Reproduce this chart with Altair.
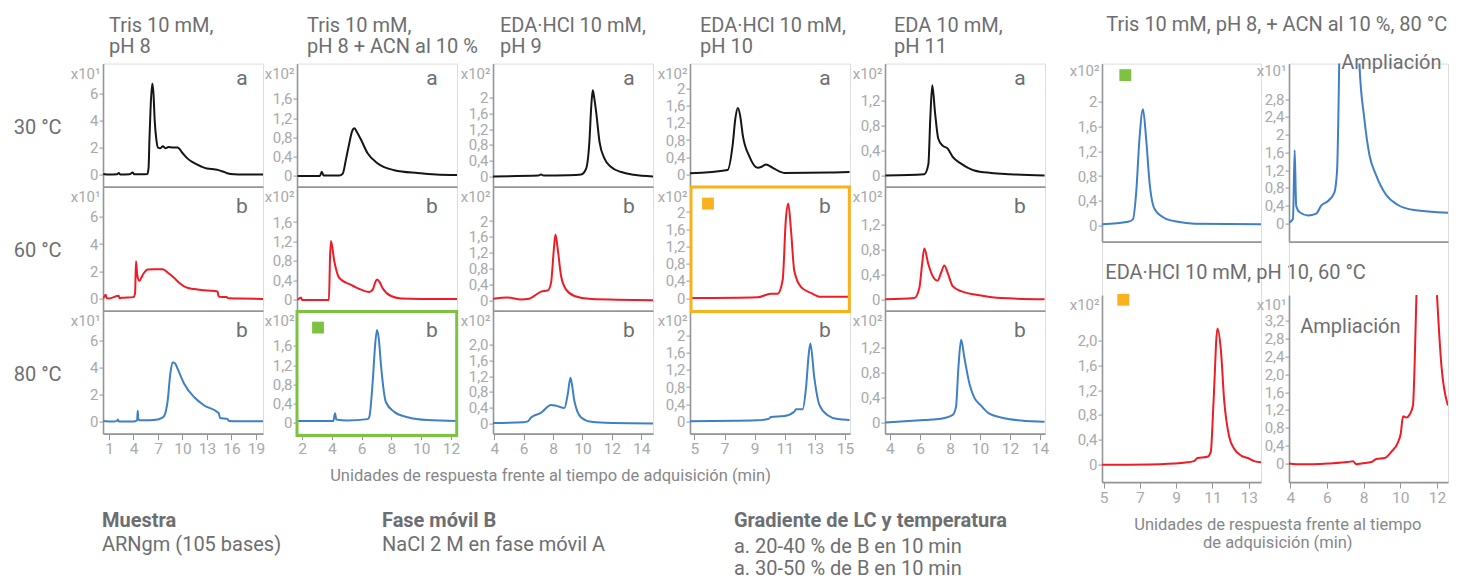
import altair as alt
import pandas as pd

# ---------------- data (display units of each panel) ----------------
# Column 1: Tris 10 mM, pH 8  (x10^1)
t_c1_30 = [0.3, 1.0, 2.0, 2.2, 2.4, 3.5, 3.9, 4.1, 5.0, 5.7, 5.85, 5.95, 6.1, 6.3, 6.45, 6.6, 6.8, 7.0, 7.3, 7.6, 7.9, 8.3, 8.8, 9.4, 10.0, 10.6, 11.3, 12.3, 13.0, 14.0, 14.3, 14.8, 15.1, 15.5, 16.3, 17.5, 19.9]
v_c1_30 = [0.05, 0.0, 0.02, 0.12, 0.0, 0.02, 0.15, 0.03, 0.02, 0.05, 0.5, 2.5, 5.0, 6.75, 6.0, 4.0, 2.6, 2.0, 1.95, 2.1, 1.95, 2.05, 2.0, 2.0, 1.6, 1.2, 0.9, 0.6, 0.45, 0.38, 0.35, 0.25, 0.2, 0.1, 0.02, 0.0, 0.0]
t_c1_60 = [0.3, 0.6, 0.7, 1.0, 2.2, 2.3, 2.5, 4.0, 4.2, 4.31, 4.45, 4.7, 5.2, 5.74, 6.5, 7.58, 8.3, 9.0, 9.6, 10.2, 10.8, 11.45, 12.3, 13.1, 14.3, 14.4, 14.5, 15.4, 15.6, 17.0, 19.9]
v_c1_60 = [0.0, 0.27, 0.05, 0.0, 0.2, 0.0, 0.05, 0.1, 0.4, 2.74, 1.8, 1.31, 1.8, 2.13, 2.15, 2.15, 1.85, 1.5, 1.15, 0.89, 0.75, 0.69, 0.63, 0.59, 0.52, 0.2, 0.12, 0.1, 0.02, 0.0, -0.03]
t_c1_80 = [0.3, 1.5, 2.0, 2.1, 2.2, 4.0, 4.45, 4.52, 4.6, 4.8, 6.0, 6.97, 7.4, 7.77, 8.19, 8.5, 8.8, 9.1, 9.41, 10.22, 11.45, 12.67, 14.3, 14.45, 14.6, 15.5, 15.7, 17.0, 19.9]
v_c1_80 = [0.05, 0.0, 0.05, 0.15, 0.0, 0.0, 0.1, 0.81, 0.15, 0.1, 0.1, 0.15, 0.25, 0.44, 1.55, 3.5, 4.39, 4.3, 3.9, 2.79, 1.8, 1.19, 0.69, 0.6, 0.27, 0.2, 0.05, 0.03, 0.02]

# Column 2: Tris 10 mM, pH 8 + ACN al 10 %  (x10^2)
t_c2_30 = [1.7, 3.2, 3.32, 3.45, 4.5, 4.73, 4.95, 5.17, 5.35, 5.51, 5.7, 5.96, 6.4, 7.08, 8.19, 9.76, 11.0, 12.4]
v_c2_30 = [0.0, 0.0, 0.09, 0.01, 0.01, 0.05, 0.35, 0.68, 0.92, 0.99, 0.9, 0.75, 0.47, 0.26, 0.12, 0.06, 0.03, 0.02]
t_c2_60 = [1.7, 1.93, 2.0, 3.8, 3.88, 3.94, 4.16, 4.5, 5.28, 5.96, 6.51, 6.74, 6.9, 7.03, 7.2, 7.41, 7.97, 8.64, 10.0, 12.4]
v_c2_60 = [0.0, 0.05, 0.0, 0.0, 0.9, 1.21, 0.8, 0.45, 0.31, 0.21, 0.16, 0.21, 0.35, 0.42, 0.37, 0.24, 0.08, 0.03, 0.02, 0.02]
t_c2_80 = [1.7, 4.1, 4.21, 4.3, 5.0, 6.4, 6.51, 6.74, 6.9, 7.03, 7.15, 7.3, 7.63, 8.19, 9.09, 10.43, 12.4]
v_c2_80 = [0.04, 0.04, 0.2, 0.07, 0.05, 0.08, 0.12, 0.85, 1.6, 1.93, 1.75, 1.19, 0.43, 0.23, 0.12, 0.06, 0.04]

# Column 3: EDA·HCl 10 mM, pH 9  (x10^2)
t_c3_30 = [3.9, 7.0, 7.18, 7.35, 9.0, 9.91, 10.25, 10.47, 10.6, 10.7, 10.8, 10.93, 11.16, 11.5, 11.95, 12.64, 13.5, 14.8]
v_c3_30 = [0.0, 0.02, 0.05, 0.02, 0.03, 0.05, 0.2, 0.88, 1.8, 2.19, 2.0, 1.64, 0.88, 0.45, 0.24, 0.11, 0.04, 0.0]
t_c3_60 = [3.9, 4.91, 5.82, 6.38, 6.84, 7.18, 7.64, 7.86, 8.05, 8.16, 8.32, 8.55, 8.89, 9.45, 10.6, 14.8]
v_c3_60 = [0.04, 0.07, 0.02, 0.04, 0.14, 0.22, 0.25, 0.44, 1.28, 1.66, 1.28, 0.6, 0.27, 0.11, 0.03, 0.0]
t_c3_80 = [3.9, 6.0, 6.28, 6.5, 7.18, 7.86, 8.2, 8.77, 9.0, 9.18, 9.3, 9.45, 9.91, 10.6, 12.0, 14.8]
v_c3_80 = [0.01, 0.03, 0.05, 0.15, 0.27, 0.47, 0.45, 0.39, 0.75, 1.16, 0.95, 0.57, 0.15, 0.04, 0.01, 0.0]

# Column 4: EDA·HCl 10 mM, pH 10  (x10^2)
t_c4_30 = [4.7, 7.21, 7.54, 7.72, 7.88, 8.05, 8.21, 8.65, 9.2, 9.5, 9.75, 10.2, 10.97, 14.0, 15.3]
v_c4_30 = [0.02, 0.1, 0.68, 1.3, 1.55, 1.35, 0.92, 0.42, 0.15, 0.18, 0.23, 0.15, 0.03, 0.04, 0.05]
t_c4_60 = [4.7, 9.2, 10.08, 10.53, 10.86, 11.08, 11.23, 11.41, 11.63, 12.07, 12.74, 13.4, 15.3]
v_c4_60 = [0.0, 0.02, 0.1, 0.1, 0.42, 1.87, 2.2, 1.6, 0.64, 0.26, 0.12, 0.03, 0.03]
t_c4_80 = [4.7, 9.2, 9.97, 10.08, 10.97, 11.63, 11.74, 12.19, 12.41, 12.6, 12.7, 12.96, 13.3, 13.85, 14.51, 15.3]
v_c4_80 = [0.0, 0.02, 0.06, 0.1, 0.12, 0.22, 0.28, 0.28, 0.78, 1.6, 1.82, 1.02, 0.38, 0.14, 0.05, 0.03]

# Column 5: EDA 10 mM, pH 11  (x10^2)
t_c5_30 = [3.7, 6.29, 6.56, 6.69, 6.82, 7.0, 7.22, 7.51, 7.85, 8.18, 8.74, 9.62, 10.74, 12.0, 14.3]
v_c5_30 = [0.0, 0.02, 0.18, 0.93, 1.45, 1.02, 0.59, 0.48, 0.43, 0.3, 0.19, 0.08, 0.04, 0.02, 0.0]
t_c5_60 = [3.7, 5.62, 5.96, 6.14, 6.29, 6.56, 6.85, 7.18, 7.4, 7.62, 7.85, 8.18, 8.74, 10.07, 11.4, 14.3]
v_c5_60 = [0.0, 0.02, 0.18, 0.56, 0.81, 0.56, 0.37, 0.3, 0.42, 0.54, 0.42, 0.21, 0.13, 0.06, 0.02, 0.0]
t_c5_80 = [3.7, 6.29, 7.4, 8.18, 8.4, 8.56, 8.74, 8.96, 9.3, 9.62, 10.07, 10.62, 11.4, 12.74, 14.3]
v_c5_80 = [0.0, 0.04, 0.06, 0.12, 0.25, 0.88, 1.33, 1.04, 0.62, 0.4, 0.27, 0.14, 0.08, 0.03, 0.01]

# Right: Tris + ACN, 80 °C  (x10^2) and zoom (x10^1)
t_acn = [4.8, 6.27, 6.55, 6.74, 6.92, 7.12, 7.3, 7.49, 7.77, 8.34, 9.09, 10.03, 13.8]
v_acn = [0.02, 0.06, 0.1, 0.55, 1.4, 1.88, 1.4, 0.7, 0.27, 0.12, 0.06, 0.03, 0.02]
t_acn_zoom = [3.9, 4.11, 4.2, 4.28, 4.46, 4.9, 5.34, 5.6, 5.95, 6.3, 6.44, 6.6, 6.8, 7.1, 7.35, 7.62, 7.88, 8.15, 8.49, 9.02, 9.64, 10.5, 12.3]
v_acn_zoom = [0.02, 0.1, 1.65, 0.4, 0.25, 0.18, 0.22, 0.4, 0.5, 0.7, 1.2, 5.0, 12.0, 18.8, 10.0, 3.6, 2.36, 1.54, 1.1, 0.65, 0.42, 0.3, 0.24]

# Right: EDA·HCl pH 10, 60 °C  (x10^2) and zoom (x10^1, only the part that is on scale)
t_eda = [4.9, 8.14, 9.62, 9.99, 10.18, 10.73, 10.91, 11.06, 11.28, 11.47, 11.65, 11.93, 12.2, 12.58, 12.95, 13.31, 13.7]
v_eda = [-0.01, 0.0, 0.03, 0.05, 0.1, 0.12, 0.2, 1.0, 2.2, 1.84, 1.03, 0.44, 0.25, 0.14, 0.1, 0.05, 0.03]
t_eda_zoom = [3.93, 4.6, 6.06, 7.15, 7.42, 7.6, 7.87, 8.42, 8.69, 9.15, 9.51, 9.88, 10.02, 10.15, 10.33, 10.51, 10.69, 10.78, 10.88, 12.0, 12.24, 12.6]
v_eda_zoom = [0.0, -0.02, 0.0, 0.03, 0.05, -0.02, 0.0, 0.03, 0.1, 0.12, 0.26, 0.48, 0.66, 1.06, 1.03, 1.1, 1.3, 2.2, 3.78, 3.78, 2.2, 1.3]
seg_eda_zoom = [0] * 19 + [1] * 3

col_titles = [["Tris 10 mM,", "pH 8"], ["Tris 10 mM,", "pH 8 + ACN al 10 %"],
              ["EDA·HCl 10 mM,", "pH 9"], ["EDA·HCl 10 mM,", "pH 10"], ["EDA 10 mM,", "pH 11"]]
row_labels = ["30 °C", "60 °C", "80 °C"]
row_letters = ["a", "b", "b"]
y_titles = ["x10¹", "x10²", "x10²", "x10²", "x10²"]
x_ticks = [[1, 4, 7, 10, 13, 16, 19], [2, 4, 6, 8, 10, 12], [4, 6, 8, 10, 12, 14],
           [5, 7, 9, 11, 13, 15], [4, 6, 8, 10, 12, 14]]
y_ticks = [[0, 2, 4, 6], [0, 0.4, 0.8, 1.2, 1.6], [0, 0.4, 0.8, 1.2, 1.6, 2.0],
           [0, 0.4, 0.8, 1.2, 1.6, 2.0], [0, 0.4, 0.8, 1.2]]
series = [[(t_c1_30, v_c1_30), (t_c2_30, v_c2_30), (t_c3_30, v_c3_30), (t_c4_30, v_c4_30), (t_c5_30, v_c5_30)],
          [(t_c1_60, v_c1_60), (t_c2_60, v_c2_60), (t_c3_60, v_c3_60), (t_c4_60, v_c4_60), (t_c5_60, v_c5_60)],
          [(t_c1_80, v_c1_80), (t_c2_80, v_c2_80), (t_c3_80, v_c3_80), (t_c4_80, v_c4_80), (t_c5_80, v_c5_80)]]

# ---------------- styling / layout ----------------
FONT = "Roboto"
TXT = "#6d6e71"
LBL = "#a7a9ac"
AXC = "#939598"
ROW_COLORS = ["#151515", "#ee1c25", "#3f7fc6"]
GREEN = "#7dc242"
ORANGE = "#f9b21d"

X_DOMS = [[0.27, 19.86], [1.66, 12.4], [3.91, 14.8], [4.71, 15.33], [3.67, 14.33]]
Y_DOMS = [[-0.89, 8.22], [-0.22, 2.33], [-0.26, 2.87], [-0.29, 2.59], [-0.18, 1.8]]
ROW_TOP = [0, 123, 247]
ROW_BOT = [123, 247, 370]
LH = 370
PW = 160
GAPS = [34, 36, 37, 35, 56.7, 27.7]
LETTER_X = [139, 135, 136, 135, 135]
LETTER_Y = [21, 26.5, 26]
TITLE_DX = [6, 10, 7, 10, 9]
RW = 159
RT_H = 178
RB_TOP = 231.5
RH = 418.5
HEAD = 20        # heading font size
BODY = 20        # bottom notes font size

EXPR_SHORT = ("datum.value == 0 ? '0' : (abs(datum.value - round(datum.value)) < 0.001 ? "
              "format(datum.value, 'd') : replace(format(datum.value, '.1f'), '.', ','))")
EXPR_LONG = "datum.value == 0 ? '0' : replace(format(datum.value, '.1f'), '.', ',')"


def y_axis(vals, title, expr, title_y, domain=True):
    return alt.Axis(orient="left", values=vals, title=title, titleAngle=0, titleAlign="right",
                    titleBaseline="middle", titleX=-3, titleY=title_y, titleFontSize=15,
                    titleFontWeight="normal", titleColor=LBL, titleFont=FONT,
                    labelExpr=expr, labelFontSize=15, labelColor=LBL, labelFont=FONT,
                    labelPadding=1, tickSize=4, tickColor=AXC, tickWidth=1,
                    domain=domain, domainColor=AXC, domainWidth=1.6, grid=False)


def x_axis(offset, vals=None, domain=True, title=None, title_x=0, title_y=0):
    if vals is None:
        return alt.Axis(orient="bottom", offset=offset, ticks=False, labels=False, title=None,
                        grid=False, domain=domain, domainColor=AXC, domainWidth=1.6)
    if title is not None:
        kw = dict(title=title, titleX=title_x, titleY=title_y, titleAlign="center",
                  titleBaseline="top", titleFontSize=16.5, titleFontWeight="normal",
                  titleColor="#85878a", titleFont=FONT, titleLineHeight=18.5)
    else:
        kw = dict(title=None)
    return alt.Axis(orient="bottom", offset=offset, values=vals, labelFontSize=15.5,
                    labelColor=LBL, labelFont=FONT, labelPadding=2, tickSize=6,
                    tickColor=AXC, tickWidth=1, domain=domain, domainColor=AXC,
                    domainWidth=1.6, grid=False, **kw)


def text_layer(txt, x, y, size=HEAD, color=TXT, align="left", weight="normal"):
    return alt.Chart(pd.DataFrame({"s": [txt]})).mark_text(
        align=align, baseline="alphabetic", fontSize=size, font=FONT, color=color,
        fontWeight=weight).encode(text="s:N", x=alt.value(x), y=alt.value(y))


def square_layer(color, x, y):
    return alt.Chart(pd.DataFrame({"s": [1]})).mark_square(
        size=140, color=color, opacity=1).encode(x=alt.value(x), y=alt.value(y))


def frame_layer(color, x1, x2, y1, y2):
    return alt.Chart(pd.DataFrame({"s": [1]})).mark_rect(
        filled=False, stroke=color, strokeWidth=3).encode(
        x=alt.value(x1), x2=alt.value(x2), y=alt.value(y1), y2=alt.value(y2))


def line_layer(ts, vs, color, xdom, ydom, yrange, xax, yax, seg=None):
    df = pd.DataFrame({"t": ts, "v": vs})
    enc = dict(
        x=alt.X("t:Q", scale=alt.Scale(domain=xdom, nice=False, zero=False), axis=xax),
        y=alt.Y("v:Q", scale=alt.Scale(domain=ydom, range=yrange, nice=False, zero=False),
                axis=yax))
    if seg is not None:
        df["seg"] = seg
        enc["detail"] = "seg:N"
    return alt.Chart(df).mark_line(color=color, strokeWidth=2, clip=True,
                                   interpolate="monotone").encode(**enc)


def spacer(w, h):
    return alt.Chart(pd.DataFrame({"s": [""]})).mark_text().encode(
        text="s:N").properties(width=w, height=h)


cells = []
for c in range(5):
    layers = []
    decos = []
    for r in range(3):
        ts, vs = series[r][c]
        boxed = (r == 2 and c == 1) or (r == 1 and c == 3)
        expr = EXPR_LONG if (c == 2 and r == 2) else EXPR_SHORT
        yax = y_axis(y_ticks[c], y_titles[c], expr, ROW_TOP[r] + 10, domain=not boxed)
        off = ROW_BOT[r] - LH
        if r < 2:
            xax = x_axis(off, None, domain=not boxed)
        elif c == 2:
            xax = x_axis(off, x_ticks[c], domain=not boxed,
                         title="Unidades de respuesta frente al tiempo de adquisición (min)",
                         title_x=57, title_y=34)
        else:
            xax = x_axis(off, x_ticks[c], domain=not boxed)
        layers.append(line_layer(ts, vs, ROW_COLORS[r], X_DOMS[c], Y_DOMS[c],
                                 [ROW_BOT[r], ROW_TOP[r]], xax, yax))
        decos.append(text_layer(row_letters[r], LETTER_X[c], ROW_TOP[r] + LETTER_Y[r],
                                size=21, align="center"))
        if c == 0:
            decos.append(text_layer(row_labels[r], -89.3, ROW_TOP[r] + 70))
    decos.append(text_layer(col_titles[c][0], TITLE_DX[c], -32))
    decos.append(text_layer(col_titles[c][1], TITLE_DX[c], -10.3))
    if c == 1:
        decos.append(frame_layer(GREEN, 0, 159.7, 248, 372))
        decos.append(square_layer(GREEN, 21, ROW_TOP[2] + 17))
        decos.append(text_layer("Fase móvil B", 85, 247 + 216.5, size=BODY, weight="bold"))
        decos.append(text_layer("NaCl 2 M en fase móvil A", 85, 247 + 240.5, size=BODY))
    if c == 3:
        decos.append(frame_layer(ORANGE, 1, 159.3, 123.5, 248))
        decos.append(square_layer(ORANGE, 18, ROW_TOP[1] + 17))
        decos.append(text_layer("Gradiente de LC y temperatura", 44, 247 + 216.5, size=BODY,
                                weight="bold"))
        decos.append(text_layer("a. 20-40 % de B en 10 min", 44, 247 + 242.5, size=BODY))
        decos.append(text_layer("a. 30-50 % de B en 10 min", 44, 247 + 264.5, size=BODY))
    if c == 0:
        decos.append(text_layer("Muestra", -1, 247 + 216.5, size=BODY, weight="bold"))
        decos.append(text_layer("ARNgm (105 bases)", -1, 247 + 240.5, size=BODY))
    cell = alt.layer(*layers, *decos).resolve_scale(
        x="independent", y="independent").properties(width=PW, height=LH)
    cells.append(cell)
    cells.append(spacer(GAPS[c], 1))

# right-hand column 1: Tris+ACN 80 °C (top) and EDA·HCl pH 10 60 °C (bottom)
right1 = alt.layer(
    line_layer(t_acn, v_acn, ROW_COLORS[2], [4.8, 13.8], [-0.26, 2.62], [RT_H, 0],
               x_axis(RT_H - RH), y_axis([0, 0.4, 0.8, 1.2, 1.6, 2.0], "x10²", EXPR_SHORT, 6.6)),
    line_layer(t_eda, v_eda, ROW_COLORS[1], [4.91, 13.68], [-0.29, 2.74], [RH, RB_TOP],
               x_axis(0, [5, 7, 9, 11, 13]),
               y_axis([0, 0.4, 0.8, 1.2, 1.6, 2.0], "x10²", EXPR_LONG, RB_TOP + 9.2)),
    square_layer(GREEN, 23.3, 11.5),
    square_layer(ORANGE, 21.3, RB_TOP + 4.7),
    text_layer("Tris 10 mM, pH 8, + ACN al 10 %, 80 °C", 4.3, -32.4),
    text_layer("EDA·HCl 10 mM, pH 10, 60 °C", 3.3, RB_TOP - 16.2),
).resolve_scale(x="independent", y="independent").properties(width=RW, height=RH)

right2 = alt.layer(
    line_layer(t_acn_zoom, v_acn_zoom, ROW_COLORS[2], [3.9, 12.3], [-0.41, 3.6], [RT_H, 0],
               x_axis(RT_H - RH),
               y_axis([0, 0.4, 0.8, 1.2, 1.6, 2.0, 2.4, 2.8], "x10¹", EXPR_SHORT, 6.6)),
    line_layer(t_eda_zoom, v_eda_zoom, ROW_COLORS[1], [3.93, 12.6], [-0.42, 3.78], [RH, RB_TOP],
               x_axis(0, [4, 6, 8, 10, 12],
                      title=["Unidades de respuesta frente al tiempo", "de adquisición (min)"],
                      title_x=-11.7, title_y=34),
               y_axis([0, 0.4, 0.8, 1.2, 1.6, 2.0, 2.4, 2.8, 3.2], "x10¹", EXPR_LONG, RB_TOP + 9.8),
               seg=seg_eda_zoom),
    text_layer("Ampliación", 52.3, 5),
    text_layer("Ampliación", 11.3, RB_TOP + 38.2),
).resolve_scale(x="independent", y="independent").properties(width=RW, height=RH)

cells += [right1, spacer(GAPS[5], 1), right2]

chart = alt.hconcat(*cells, spacing=0, bounds="flush").configure_view(
    stroke="transparent").configure(font=FONT).properties(
    padding={"left": 5, "top": 6.6, "right": 5, "bottom": 5})

chart.save("out.html", embed_options={"renderer": "svg", "actions": False})
